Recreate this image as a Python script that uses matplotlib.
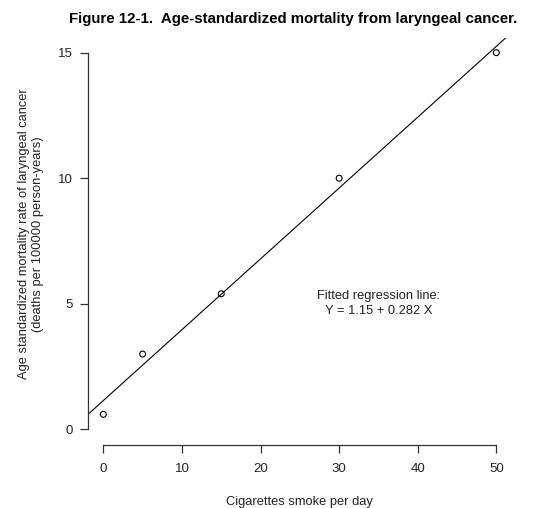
import matplotlib.pyplot as plt
import numpy as np

plt.rcParams['font.family'] = ['Liberation Sans', 'DejaVu Sans']

# Cigarettes per day vs age-standardized laryngeal cancer mortality
cigs = [0, 5, 15, 30, 50]
mortality = [0.6, 3.0, 5.4, 10.0, 15.0]
intercept = 1.15
slope = 0.282
xticks = [0, 10, 20, 30, 40, 50]
yticks = [0, 5, 10, 15]

fig = plt.figure(figsize=(5.33, 5.08), dpi=100)
ax = fig.add_axes([0.1644, 0.1547, 0.7962, 0.7701])

ax.scatter(cigs, mortality, s=18, facecolors='none', edgecolors='black', linewidths=0.8, zorder=3)

# regression line across the whole plot region (like abline)
xlo, xhi = -2, 52
ylo, yhi = 0.024, 15.576
xs = np.array([xlo, xhi])
ax.plot(xs, intercept + slope * xs, color='black', lw=0.8)
ax.set_xlim(xlo, xhi)
ax.set_ylim(ylo, yhi)

ax.text(35.0, 5.0, 'Fitted regression line:\nY = 1.15 + 0.282 X', ha='center', va='center',
        fontsize=9.3, linespacing=1.35, color='#222222')

for s in ['top', 'right']:
    ax.spines[s].set_visible(False)
ax.spines['bottom'].set_position(('outward', 11.5))
ax.spines['bottom'].set_bounds(0, 50)
ax.spines['left'].set_bounds(0, 15)
for s in ['bottom', 'left']:
    ax.spines[s].set_color('#333333')
    ax.spines[s].set_linewidth(0.9)

ax.set_xticks(xticks)
ax.set_yticks(yticks)
ax.tick_params(axis='both', length=5.5, width=0.9, color='#333333', labelsize=9.5,
               labelcolor='#222222', pad=5)
ax.tick_params(axis='x', pad=7.5)

ax.set_xlabel('Cigarettes smoke per day', fontsize=9.3, labelpad=14.5, color='#222222')
ax.set_ylabel('Age standardized mortality rate of laryngeal cancer\n(deaths per 100000 person-years)',
              fontsize=9.3, labelpad=10, linespacing=1.25, color='#222222')

fig.suptitle('Figure 12-1.  Age-standardized mortality from laryngeal cancer.',
             x=0.55, y=0.977, fontsize=10.8, fontweight='bold')

fig.savefig('out.png', dpi=100)
